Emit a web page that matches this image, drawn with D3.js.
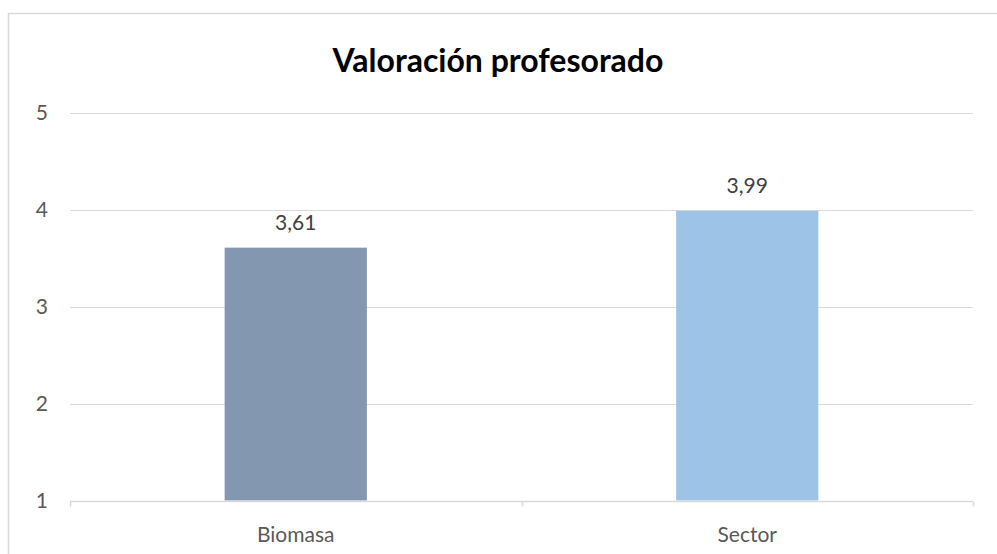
<!DOCTYPE html>
<html>
<head>
<meta charset="utf-8">
<script src="https://cdn.jsdelivr.net/npm/d3@7"></script>
<style>
  body { margin: 0; background: #fff; }
  svg { display: block; font-family: Lato, "Open Sans", sans-serif; }
</style>
</head>
<body>
<div id="chart"></div>
<script>
// Chart data
const categories = ["Biomasa", "Sector"];
const values = [3.61, 3.99];
const colors = ["#8497B0", "#9DC3E6"];
const yTicks = [1, 2, 3, 4, 5];
const title = "Valoración profesorado";

const width = 997, height = 554;
const margin = { top: 113, right: 24, bottom: 53, left: 70 };

const svg = d3.select("#chart").append("svg")
    .attr("width", width)
    .attr("height", height);

// Outer chart border
svg.append("rect")
    .attr("x", 8.5).attr("y", 13.5)
    .attr("width", 1000).attr("height", 560)
    .attr("fill", "none")
    .attr("stroke", "#d9d9d9")
    .attr("stroke-width", 1.5);

svg.append("text")
    .attr("x", 498).attr("y", 72)
    .attr("text-anchor", "middle")
    .attr("font-size", 32)
    .attr("font-weight", "bold")
    .attr("fill", "#000")
    .text(title);

const x = d3.scaleBand()
    .domain(categories)
    .range([margin.left, width - margin.right])
    .paddingInner(0.685)
    .paddingOuter(0.3425);

const y = d3.scaleLinear()
    .domain([1, 5])
    .range([height - margin.bottom - 0.5, margin.top]);

// Gridlines
svg.append("g")
    .selectAll("line")
    .data(yTicks.slice(1))
    .join("line")
    .attr("x1", margin.left).attr("x2", width - margin.right)
    .attr("y1", d => Math.round(y(d)) + 0.5).attr("y2", d => Math.round(y(d)) + 0.5)
    .attr("stroke", "#d9d9d9")
    .attr("stroke-width", 1);

// Y tick labels
svg.append("g")
    .selectAll("text")
    .data(yTicks)
    .join("text")
    .attr("x", 48)
    .attr("y", d => y(d))
    .attr("dy", "0.35em")
    .attr("text-anchor", "end")
    .attr("font-size", 21)
    .attr("fill", "#595959")
    .text(d => d);

// Bars
svg.append("g")
    .selectAll("rect")
    .data(values)
    .join("rect")
    .attr("x", (d, i) => x(categories[i]))
    .attr("width", x.bandwidth())
    .attr("y", d => y(d))
    .attr("height", d => y(1) - y(d))
    .attr("fill", (d, i) => colors[i]);

// Value labels
svg.append("g")
    .selectAll("text")
    .data(values)
    .join("text")
    .attr("x", (d, i) => x(categories[i]) + x.bandwidth() / 2)
    .attr("y", d => y(d) - 18)
    .attr("text-anchor", "middle")
    .attr("font-size", 21)
    .attr("fill", "#404040")
    .text(d => d.toFixed(2).replace(".", ","));

// X axis line and category boundary ticks
const axisY = Math.round(y(1)) + 0.5;
const step = x.step();
svg.append("line")
    .attr("x1", margin.left).attr("x2", width - margin.right)
    .attr("y1", axisY).attr("y2", axisY)
    .attr("stroke", "#d9d9d9")
    .attr("stroke-width", 1.5);

svg.append("g")
    .selectAll("line")
    .data(d3.range(categories.length + 1))
    .join("line")
    .attr("x1", i => Math.round(margin.left + i * step) + 0.5)
    .attr("x2", i => Math.round(margin.left + i * step) + 0.5)
    .attr("y1", axisY).attr("y2", axisY + 5)
    .attr("stroke", "#d9d9d9")
    .attr("stroke-width", 1.5);

// Category labels
svg.append("g")
    .selectAll("text")
    .data(categories)
    .join("text")
    .attr("x", d => x(d) + x.bandwidth() / 2)
    .attr("y", axisY + 40)
    .attr("text-anchor", "middle")
    .attr("font-size", 21)
    .attr("fill", "#595959")
    .text(d => d);
</script>
</body>
</html>
